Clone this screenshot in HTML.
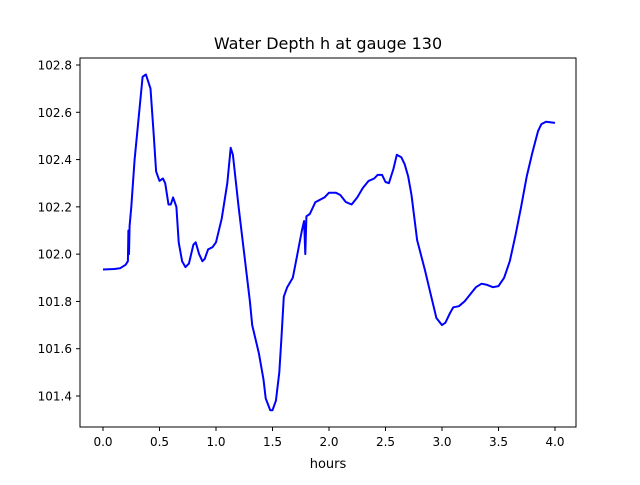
<!DOCTYPE html>
<html><head><meta charset="utf-8"><style>
body{margin:0;background:#fff;}
svg text{font-family:"DejaVu Sans","Liberation Sans",sans-serif;fill:#000;}
</style></head><body>
<svg id="chart" width="640" height="480" viewBox="0 0 640 480" xmlns="http://www.w3.org/2000/svg">
<rect width="640" height="480" fill="#fff"/>
<text x="328" y="49" font-size="16" text-anchor="middle">Water Depth h at gauge 130</text>
<g id="xticks"></g>
<g id="yticks"></g>
<polyline id="series" fill="none" stroke="#0000ff" stroke-width="2" stroke-linejoin="round"/>
<rect x="80" y="58" width="496" height="369" fill="none" stroke="#000" stroke-width="1"/>
<text x="328" y="468" font-size="13" text-anchor="middle">hours</text>
</svg>
<script>
const hours=[0,0.1,0.15,0.2,0.22,0.225,0.23,0.235,0.25,0.28,0.3,0.35,0.38,0.42,0.45,0.47,0.5,0.53,0.55,0.58,0.6,0.62,0.65,0.67,0.7,0.73,0.76,0.8,0.82,0.85,0.88,0.9,0.93,0.97,1.0,1.05,1.1,1.13,1.15,1.2,1.3,1.32,1.38,1.42,1.44,1.48,1.5,1.53,1.56,1.58,1.6,1.63,1.68,1.72,1.76,1.78,1.79,1.8,1.83,1.88,1.92,1.96,2.0,2.06,2.1,2.15,2.2,2.25,2.3,2.35,2.4,2.43,2.47,2.5,2.53,2.57,2.6,2.64,2.67,2.7,2.73,2.78,2.85,2.9,2.95,3.0,3.03,3.07,3.1,3.15,3.2,3.25,3.3,3.35,3.4,3.45,3.5,3.55,3.6,3.65,3.7,3.75,3.8,3.85,3.88,3.92,4.0];
const depth=[101.935,101.937,101.94,101.955,101.97,102.10,102.0,102.12,102.2,102.4,102.5,102.75,102.76,102.7,102.5,102.35,102.31,102.32,102.3,102.21,102.21,102.24,102.2,102.05,101.97,101.945,101.96,102.04,102.05,102.0,101.97,101.98,102.02,102.03,102.05,102.15,102.3,102.45,102.42,102.2,101.8,101.7,101.58,101.47,101.39,101.34,101.34,101.38,101.5,101.65,101.82,101.86,101.9,102.0,102.1,102.14,102.0,102.16,102.17,102.22,102.23,102.24,102.26,102.26,102.25,102.22,102.21,102.24,102.28,102.31,102.32,102.335,102.335,102.305,102.3,102.36,102.42,102.41,102.38,102.33,102.25,102.06,101.93,101.83,101.73,101.7,101.71,101.75,101.775,101.78,101.8,101.83,101.86,101.875,101.87,101.86,101.865,101.9,101.97,102.08,102.2,102.33,102.43,102.52,102.55,102.56,102.555];
const xTickLabels=["0.0","0.5","1.0","1.5","2.0","2.5","3.0","3.5","4.0"];
const yTickLabels=["101.4","101.6","101.8","102.0","102.2","102.4","102.6","102.8"];
const X=v=>103+(v-0)*(555-103)/4;
const Y=v=>396-(v-101.4)*(396-65)/1.4;
const NS="http://www.w3.org/2000/svg";
const xg=document.getElementById('xticks'),yg=document.getElementById('yticks');
xTickLabels.forEach(l=>{const x=X(parseFloat(l));
 const t=document.createElementNS(NS,'line');t.setAttribute('x1',x);t.setAttribute('x2',x);t.setAttribute('y1',427);t.setAttribute('y2',431);t.setAttribute('stroke','#000');
 
 
 xg.appendChild(t);
 const s=document.createElementNS(NS,'text');s.setAttribute('x',x);s.setAttribute('y',446);s.setAttribute('font-size','12');s.setAttribute('text-anchor','middle');s.textContent=l;
 
 
 xg.appendChild(s);});
yTickLabels.forEach(l=>{const y=Y(parseFloat(l));
 const t=document.createElementNS(NS,'line');t.setAttribute('x1',76);t.setAttribute('x2',80);t.setAttribute('y1',y);t.setAttribute('y2',y);t.setAttribute('stroke','#000');
 
 
 yg.appendChild(t);
 const s=document.createElementNS(NS,'text');s.setAttribute('x',72);s.setAttribute('y',y+4.5);s.setAttribute('font-size','12');s.setAttribute('text-anchor','end');s.textContent=l;
 
 
 yg.appendChild(s);});
document.getElementById('series').setAttribute('points',hours.map((h,i)=>X(h).toFixed(1)+','+Y(depth[i]).toFixed(1)).join(' '));
</script>
</body></html>
